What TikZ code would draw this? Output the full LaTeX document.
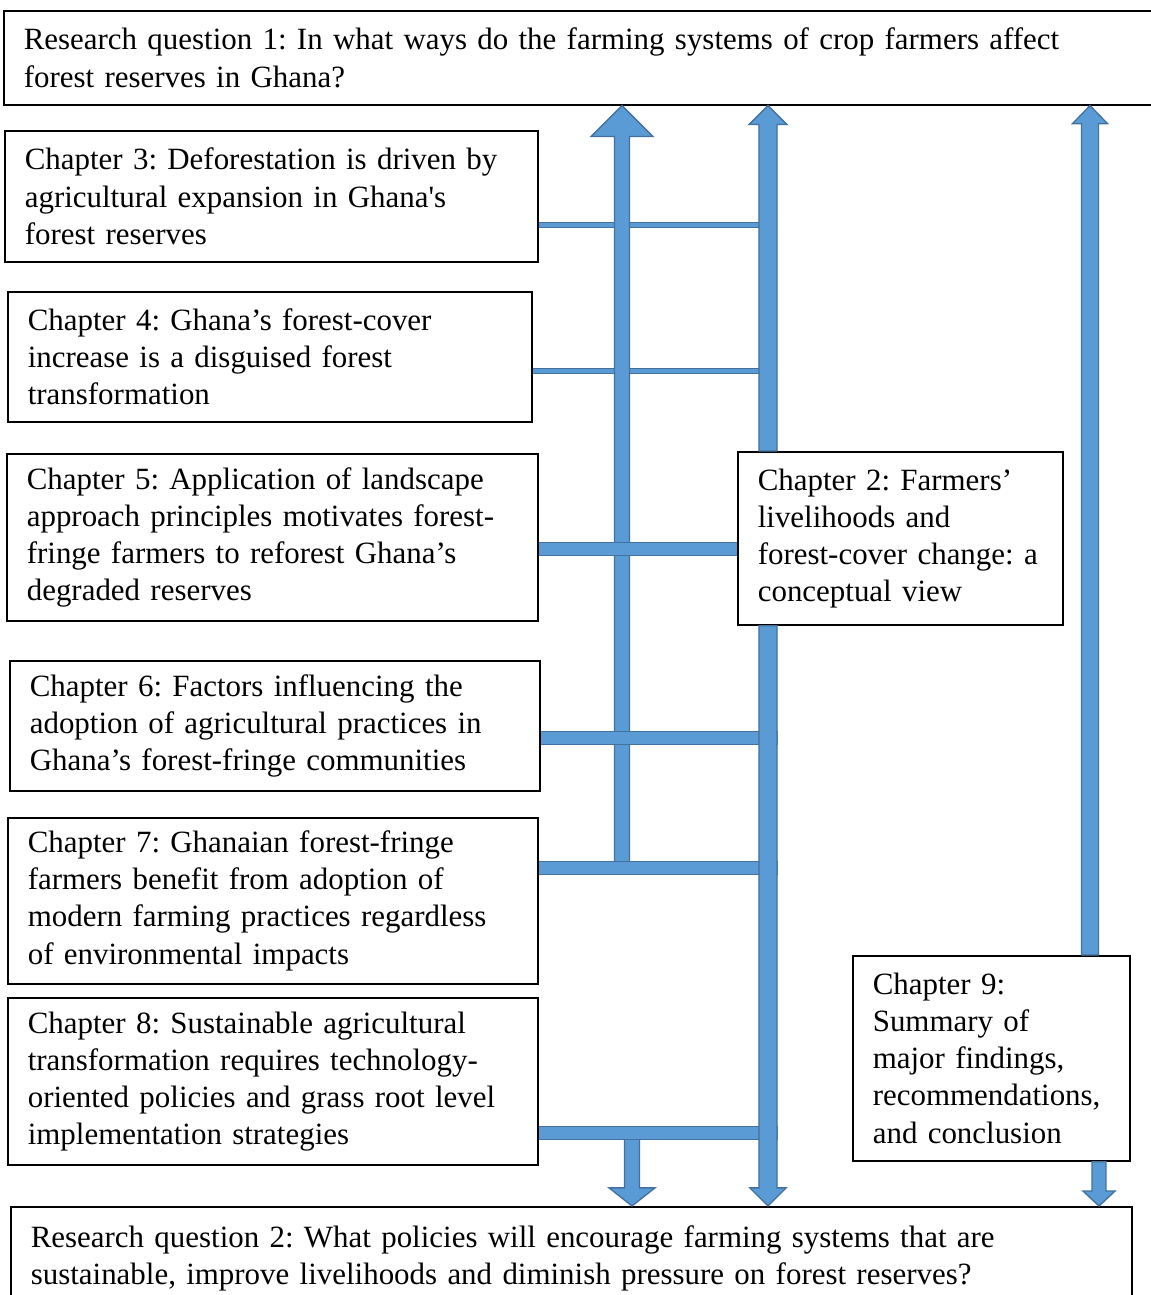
\documentclass[tikz,border=0pt]{standalone}
\usepackage{fontspec}
\setmainfont{Liberation Serif}
\usepackage{tikz}
\usetikzlibrary{calc}
\frenchspacing
\definecolor{arrfill}{HTML}{5B9BD5}
\definecolor{arrline}{HTML}{41719C}
\tikzset{chapbox/.style={draw, line width=0.6pt, anchor=north west, align=left, inner xsep=7.5pt, inner ysep=0pt, font=\fontsize{11.6}{13.9}\selectfont}}
\tikzset{blockarr/.style={fill=arrfill, draw=arrline, line width=0.5pt}}
\tikzset{thinbar/.style={draw=arrline, line width=0.45pt, double=arrfill, double distance=1.4pt}}
\tikzset{thickbar/.style={draw=arrline, line width=0.45pt, double=arrfill, double distance=4.4pt}}
% block arrow: start, tip, shaft half width, head half width, head length
\newcommand{\chapterarrow}[5]{%
  \filldraw[blockarr] let \p1=#1, \p2=#2, \n1={\y2-sign(\y2-\y1)*#5} in
    (\x2-#3,\y1) -- (\x2-#3,\n1) -- (\x2-#4,\n1) -- (\p2) -- (\x2+#4,\n1) -- (\x2+#3,\n1) -- (\x2+#3,\y1) -- cycle;}

\begin{document}
\begin{tikzpicture}[x=0.375pt,y=-0.375pt]
\useasboundingbox (0,0) rectangle (1151,1295);
\node[chapbox, text width=420pt, minimum height=35.25pt] (rq1) at (3,10) {Research question 1: In what ways do the farming systems of crop farmers affect\\ forest reserves in Ghana?};
\node[chapbox, text width=184.9pt, minimum height=49.1pt] (ch3) at (4,130) {Chapter 3: Deforestation is driven by\\ agricultural expansion in Ghana\textquotesingle s\\ forest reserves};
\node[chapbox, text width=181.5pt, minimum height=48.75pt] (ch4) at (7,291) {Chapter 4: Ghana’s forest-cover\\ increase is a disguised forest\\ transformation};
\node[chapbox, text width=184.1pt, minimum height=62.6pt] (ch5) at (6,453) {Chapter 5: Application of landscape\\ approach principles motivates forest-\\ fringe farmers to reforest Ghana’s\\ degraded reserves};
\node[chapbox, text width=183.75pt, minimum height=48.75pt] (ch6) at (9,660) {Chapter 6: Factors influencing the\\ adoption of agricultural practices in\\ Ghana’s forest-fringe communities};
\node[chapbox, text width=183.75pt, minimum height=62.25pt] (ch7) at (7,817) {Chapter 7: Ghanaian forest-fringe\\ farmers benefit from adoption of\\ modern farming practices regardless\\ of environmental impacts};
\node[chapbox, text width=183.75pt, minimum height=62.6pt] (ch8) at (7,997) {Chapter 8: Sustainable agricultural\\ transformation requires technology-\\ oriented policies and grass root level\\ implementation strategies};
\node[chapbox, text width=106.9pt, minimum height=64.9pt] (ch2) at (737,451) {Chapter 2: Farmers’\\ livelihoods and\\ forest-cover change: a\\ conceptual view};
\node[chapbox, text width=88.9pt, minimum height=76.9pt] (ch9) at (852,955) {Chapter 9:\\ Summary of\\ major findings,\\ recommendations,\\ and conclusion};
\node[chapbox, text width=405.4pt, minimum height=39pt] (rq2) at (10,1206) {Research question 2: What policies will encourage farming systems that are\\ sustainable, improve livelihoods and diminish pressure on forest reserves?};

\coordinate (colA) at (622,0);
\coordinate (colB) at (768,0);
\coordinate (colBr) at (778,0);
\coordinate (colD) at (632,0);
\coordinate (colC) at (1090,0);
\coordinate (colE) at (1099,0);
\coordinate (j3) at ([yshift=-10.7pt]ch3.east);
\coordinate (j4) at ([yshift=-5.25pt]ch4.east);
\coordinate (j5) at ([yshift=-4.3pt]ch5.east);
\coordinate (j6) at ([yshift=-4.5pt]ch6.east);
\coordinate (j7) at ([yshift=12.4pt]ch7.east);
\coordinate (j8) at ([yshift=-19.3pt]ch8.east);

\draw[thinbar] (j3) -- (j3 -| colB);
\draw[thinbar] (j4) -- (j4 -| colB);
\chapterarrow{(colA |- j7)}{(colA |- rq1.south)}{2.8pt}{11.6pt}{11.6pt}
\draw[thickbar] (j5) -- (j5 -| ch2.west);
\chapterarrow{(colD |- j8)}{(colD |- rq2.north)}{2.8pt}{8.6pt}{6.8pt}
\draw[thickbar] (j6) -- (j6 -| colBr);
\draw[thickbar] (j7) -- (j7 -| colBr);
\draw[thickbar] (j8) -- (j8 -| colBr);
\chapterarrow{(colB |- ch2.north)}{(colB |- rq1.south)}{3.4pt}{7.1pt}{7.1pt}
\chapterarrow{(colB |- ch2.south)}{(colB |- rq2.north)}{3.4pt}{6.8pt}{6.8pt}
\chapterarrow{(colC |- ch9.north)}{(colC |- rq1.south)}{3.2pt}{6.6pt}{6.8pt}
\chapterarrow{(colE |- ch9.south)}{(colE |- rq2.north)}{2.6pt}{6pt}{5.6pt}
\end{tikzpicture}
\end{document}
